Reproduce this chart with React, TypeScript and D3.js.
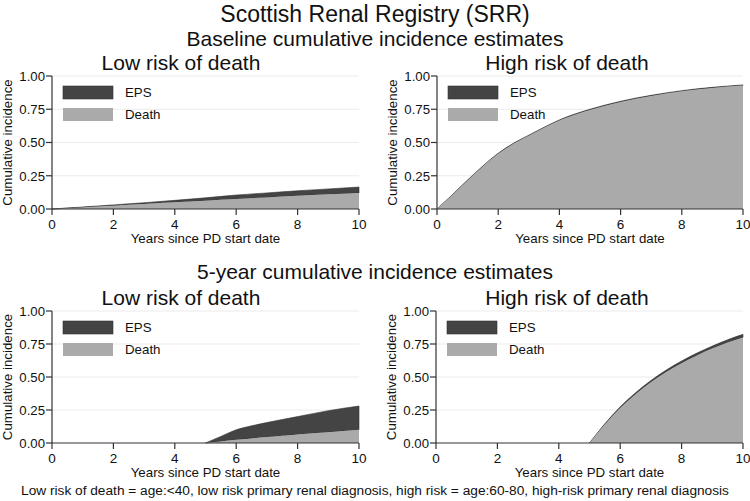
import * as d3 from 'd3';

// time points (years since PD start) and cumulative incidence per panel
const blLowT = [0, 1, 2, 3, 4, 5, 6, 7, 8, 9, 10];
const blLowDeath = [0, 0.012, 0.025, 0.037, 0.05, 0.062, 0.075, 0.087, 0.1, 0.11, 0.12];
const blLowEps = [0, 0.003, 0.006, 0.01, 0.015, 0.022, 0.03, 0.034, 0.037, 0.041, 0.045];

const blHighT = [0, 0.5, 1, 1.5, 2, 2.5, 3, 3.5, 4, 5, 6, 7, 8, 9, 10];
const blHighDeath = [0, 0.105, 0.215, 0.32, 0.415, 0.49, 0.55, 0.61, 0.665, 0.745, 0.805, 0.85, 0.885, 0.91, 0.928];
const blHighEps = [0, 0.002, 0.003, 0.004, 0.004, 0.005, 0.005, 0.005, 0.005, 0.005, 0.005, 0.005, 0.005, 0.005, 0.005];

const fyLowT = [5, 5.5, 6, 6.5, 7, 7.5, 8, 9, 10];
const fyLowDeath = [0, 0.012, 0.025, 0.035, 0.045, 0.055, 0.065, 0.082, 0.1];
const fyLowEps = [0, 0.038, 0.075, 0.095, 0.11, 0.123, 0.135, 0.163, 0.18];

const fyHighT = [5, 5.5, 6, 6.5, 7, 7.5, 8, 8.5, 9, 9.5, 10];
const fyHighDeath = [0, 0.14, 0.265, 0.37, 0.46, 0.538, 0.605, 0.663, 0.715, 0.761, 0.8];
const fyHighEps = [0, 0.006, 0.009, 0.011, 0.013, 0.015, 0.016, 0.018, 0.019, 0.021, 0.023];

const xTicks = [0, 2, 4, 6, 8, 10];
const yTicks = [0, 0.25, 0.5, 0.75, 1];
const legendLabels = ['EPS', 'Death'];

const mainTitle = 'Scottish Renal Registry (SRR)';
const subtitles = ['Baseline cumulative incidence estimates', '5-year cumulative incidence estimates'];
const panelTitles = ['Low risk of death', 'High risk of death'];
const xTitle = 'Years since PD start date';
const yTitle = 'Cumulative incidence';
const note =
  'Low risk of death = age:<40, low risk primary renal diagnosis, high risk = age:60-80, high-risk primary renal diagnosis';

const DARK = '#444444';
const LIGHT = '#aaaaaa';
const FONT = 'Liberation Sans, Arial, sans-serif';

type Row = { t: number; death: number; total: number };

type PanelProps = {
  left: number;
  right: number;
  bottom: number;
  top: number;
  title: string;
  titleX: number;
  t: number[];
  death: number[];
  eps: number[];
};

const Panel = ({ left, right, bottom, top, title, titleX, t, death, eps }: PanelProps) => {
  const x = d3.scaleLinear().domain([0, 10]).range([left, right]);
  const y = d3.scaleLinear().domain([0, 1]).range([bottom, top]);

  const rows: Row[] = t.map((v, i) => ({ t: v, death: death[i], total: death[i] + eps[i] }));

  const deathArea = d3
    .area<Row>()
    .x(d => x(d.t))
    .y0(y(0))
    .y1(d => y(d.death))
    .curve(d3.curveMonotoneX);

  const epsArea = d3
    .area<Row>()
    .x(d => x(d.t))
    .y0(d => y(d.death))
    .y1(d => y(d.total))
    .curve(d3.curveMonotoneX);

  return (
    <g fontFamily={FONT}>
      <text x={titleX} y={top - 6} textAnchor="middle" fontSize={21} fill="#111">
        {title}
      </text>

      {/* grid */}
      {yTicks.slice(1).map(v => (
        <line key={v} x1={left} x2={right} y1={y(v)} y2={y(v)} stroke="#ebebeb" strokeWidth={1} />
      ))}

      <path d={epsArea(rows) ?? ''} fill={DARK} stroke="#333" strokeWidth={0.6} />
      <path d={deathArea(rows) ?? ''} fill={LIGHT} />

      {/* y axis */}
      <line x1={left} x2={left} y1={bottom} y2={top} stroke="#333" strokeWidth={1.2} />
      {yTicks.map(v => (
        <g key={v}>
          <line x1={left - 6} x2={left} y1={y(v)} y2={y(v)} stroke="#333" strokeWidth={1.2} />
          <text x={left - 7} y={y(v)} dy="0.36em" textAnchor="end" fontSize={13.2} fill="#111">
            {d3.format('.2f')(v)}
          </text>
        </g>
      ))}
      <text
        transform={`translate(${left - 40},${(top + bottom) / 2}) rotate(-90)`}
        textAnchor="middle"
        fontSize={13.3}
        fill="#111"
      >
        {yTitle}
      </text>

      {/* x axis */}
      <line x1={left} x2={right} y1={bottom} y2={bottom} stroke="#333" strokeWidth={1.2} />
      {xTicks.map(v => (
        <g key={v}>
          <line x1={x(v)} x2={x(v)} y1={bottom} y2={bottom + 6} stroke="#333" strokeWidth={1.2} />
          <text x={x(v)} y={bottom + 19.5} textAnchor="middle" fontSize={13.5} fill="#111">
            {v}
          </text>
        </g>
      ))}
      <text x={(left + right) / 2} y={bottom + 34} textAnchor="middle" fontSize={13.3} fill="#111">
        {xTitle}
      </text>

      {/* legend */}
      {legendLabels.map((lab, i) => (
        <g key={lab}>
          <rect
            x={left + 11}
            y={top + 10 + i * 22}
            width={50}
            height={13}
            fill={i === 0 ? DARK : LIGHT}
            stroke={i === 0 ? '#333' : 'none'}
            strokeWidth={0.6}
          />
          <text x={left + 73} y={top + 16.5 + i * 22} dy="0.35em" fontSize={13.3} fill="#111">
            {lab}
          </text>
        </g>
      ))}
    </g>
  );
};

const App = () => {
  return (
    <svg
      width={750}
      height={501}
      style={{ position: 'absolute', left: 0, top: 0, background: '#fff' }}
      fontFamily={FONT}
    >
      <rect width={750} height={501} fill="#fff" />
      <text x={375} y={22} textAnchor="middle" fontSize={23} fill="#111">
        {mainTitle}
      </text>
      <text x={375} y={46} textAnchor="middle" fontSize={21} fill="#111">
        {subtitles[0]}
      </text>
      <text x={375} y={279} textAnchor="middle" fontSize={21} fill="#111">
        {subtitles[1]}
      </text>

      <Panel left={52} right={359} bottom={209} top={76} title={panelTitles[0]} titleX={181} t={blLowT} death={blLowDeath} eps={blLowEps} />
      <Panel left={437} right={743} bottom={209} top={76} title={panelTitles[1]} titleX={567} t={blHighT} death={blHighDeath} eps={blHighEps} />
      <Panel left={52} right={359} bottom={443} top={311} title={panelTitles[0]} titleX={181} t={fyLowT} death={fyLowDeath} eps={fyLowEps} />
      <Panel left={436} right={743} bottom={443} top={311} title={panelTitles[1]} titleX={567} t={fyHighT} death={fyHighDeath} eps={fyHighEps} />

      <text x={375} y={495} textAnchor="middle" fontSize={13.7} fill="#111">
        {note}
      </text>
    </svg>
  );
};

export default App;
